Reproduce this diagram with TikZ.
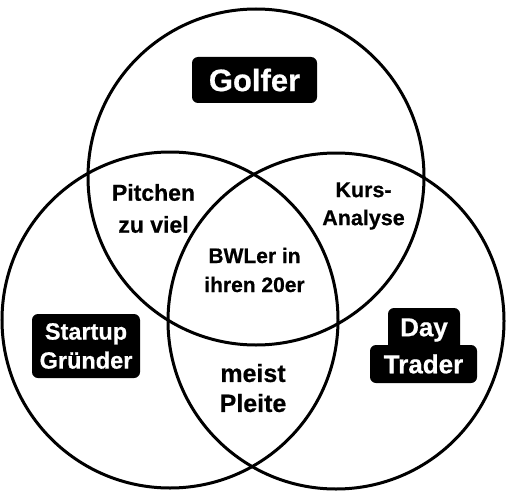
\documentclass[tikz,border=0pt]{standalone}
\usepackage{fontspec}
\setmainfont{Liberation Sans}[BoldFeatures={FakeBold=0.6}]
\usepackage{xcolor}
\definecolor{schwarz}{RGB}{0,0,0}
\definecolor{weiss}{RGB}{255,255,255}
\usepackage{tikz}

\begin{document}
\begin{tikzpicture}[
    x=1pt,y=-1pt,
    kreis/.style={circle,draw=schwarz,line width=3pt,minimum size=336pt,inner sep=0pt},
    etikett/.style={fill=schwarz,text=weiss,rounded corners=6pt,align=center,inner sep=0pt},
    feld/.style={text=schwarz,align=center,inner sep=0pt}
    ]
    \useasboundingbox (0,0) rectangle (508,500);

    % Kreise
    \node[kreis] (golf)    at (256,177) {};
    \node[kreis] (startup) at (170,320) {};
    \node[kreis] (trader)  at (336,321) {};

    % Namen der Kreise
    \node[etikett, minimum width=125pt, minimum height=46pt,
    font=\bfseries\fontsize{31}{36}\selectfont] (golfer) at (254.5,80) {Golfer};
    \node[etikett, minimum width=108pt, minimum height=64pt,
    font=\bfseries\fontsize{23.5}{29}\selectfont] (gruender) at (86,346) {Startup\\Gründer};
    \node[etikett, minimum width=72pt, minimum height=44pt,
    font=\bfseries\fontsize{26}{30}\selectfont] (day) at (424,330) {Day};
    \node[etikett, minimum width=107pt, minimum height=38pt,
    font=\bfseries\fontsize{26}{30}\selectfont] (dtrader) at (423.5,364) {Trader};

    % Schnittmengen
    \node[feld, font=\bfseries\fontsize{23}{32}\selectfont] (pitchen) at (153.5,208.5) {Pitchen\\zu viel};
    \node[feld, font=\bfseries\fontsize{21.5}{28}\selectfont] (kurs) at (363.5,206) {Kurs-\\Analyse};
    \node[feld, font=\bfseries\fontsize{21}{29}\selectfont] (bwler) at (254.5,270) {BWLer in\\ihren 20er};
    \node[feld, font=\bfseries\fontsize{25}{30}\selectfont] (pleite) at (253,388) {meist\\Pleite};
\end{tikzpicture}
\end{document}
